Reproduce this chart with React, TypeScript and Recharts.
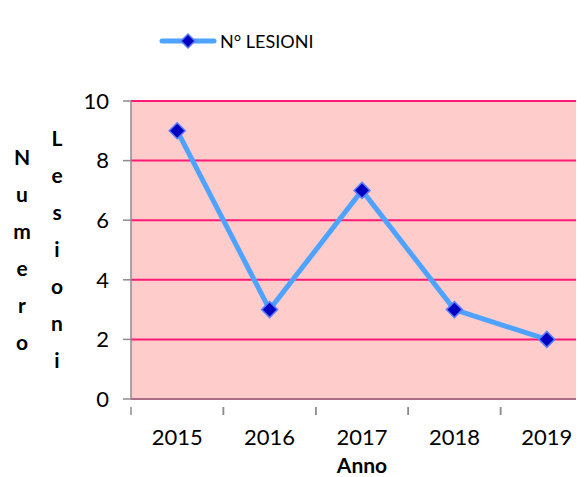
import React from 'react';
import { LineChart, Line, XAxis, YAxis, CartesianGrid } from 'recharts';

const years = ['2015', '2016', '2017', '2018', '2019'];
const lesioni = [9, 3, 7, 3, 2];
const yTicks = [0, 2, 4, 6, 8, 10];
const seriesName = 'N° LESIONI';
const yTitleCols = ['Numero', 'Lesioni'];
const xTitle = 'Anno';

const data = years.map((y, i) => ({ anno: y, value: lesioni[i] }));

const FONT = 'Lato, "Open Sans", sans-serif';
const LINE = '#4da3ff';
const DOT = '#0000c0';
const PLOT_W = 462;
const BAND = PLOT_W / years.length;

const Diamond = (props: any) => {
    const { cx, cy } = props;
    if (cx == null || cy == null) return null;
    const r = 8;
    return (
        <path
            d={`M${cx},${cy - r} L${cx + r},${cy} L${cx},${cy + r} L${cx - r},${cy} Z`}
            fill={DOT}
            stroke="#5a7dff"
            strokeWidth={1.5}
        />
    );
};

const XTick = (props: any) => {
    const { x, y, payload } = props;
    return (
        <g>
            <line x1={x - BAND / 2} y1={y} x2={x - BAND / 2} y2={y + 8} stroke="#8c8c8c" strokeWidth={1.5} />
            <line x1={x + BAND / 2} y1={y} x2={x + BAND / 2} y2={y + 8} stroke="#8c8c8c" strokeWidth={1.5} />
            <text x={x} y={y + 38} textAnchor="middle" fontFamily={FONT} fontSize={22} fill="#000">
                {payload.value}
            </text>
        </g>
    );
};

const YTitle = (props: any) => {
    const { viewBox } = props;
    const colX = [viewBox.x - 59, viewBox.x - 24];
    const startY = [viewBox.y + 57, viewBox.y + 38];
    return (
        <g>
            {yTitleCols.map((word, c) =>
                word.split('').map((ch, i) => (
                    <text
                        key={`${c}-${i}`}
                        x={colX[c]}
                        y={startY[c] + i * 37 + 7}
                        textAnchor="middle"
                        fontFamily={FONT}
                        fontWeight="bold"
                        fontSize={21}
                        fill="#000"
                    >
                        {ch}
                    </text>
                ))
            )}
        </g>
    );
};

const XTitle = (props: any) => {
    const { viewBox } = props;
    return (
        <text
            x={viewBox.x + viewBox.width / 2}
            y={viewBox.y + 74}
            textAnchor="middle"
            fontFamily={FONT}
            fontWeight="bold"
            fontSize={21}
            fill="#000"
        >
            {xTitle}
        </text>
    );
};

const LegendBox = () => (
    <div
        style={{
            position: 'absolute',
            top: 22,
            left: 150,
            display: 'flex',
            alignItems: 'center',
            fontFamily: FONT,
            fontSize: 18,
            color: '#000',
        }}
    >
        <svg width={60} height={20}>
            <line x1={4} y1={10} x2={56} y2={10} stroke={LINE} strokeWidth={5} strokeLinecap="round" />
            <path d="M30,3 L37,10 L30,17 L23,10 Z" fill={DOT} stroke="#5a7dff" strokeWidth={1.5} />
        </svg>
        <span style={{ marginLeft: 2 }}>{seriesName}</span>
    </div>
);

export default function App() {
    return (
        <div style={{ position: 'relative', width: 576, height: 469, overflow: 'hidden' }}>
            <LineChart
                width={600}
                height={469}
                data={data}
                margin={{ top: 93, right: 15, bottom: 0, left: 73 }}
            >
                <CartesianGrid
                    horizontal
                    vertical={false}
                    fill="#ffcccc"
                    fillOpacity={1}
                    stroke="#ff1a75"
                    strokeWidth={2}
                />
                <XAxis
                    dataKey="anno"
                    scale="band"
                    height={78}
                    axisLine={{ stroke: '#8c8c8c', strokeWidth: 1.5 }}
                    tickLine={false}
                    tick={<XTick />}
                    interval={0}
                    label={{ content: <XTitle /> }}
                />
                <YAxis
                    domain={[0, 10]}
                    ticks={yTicks}
                    width={50}
                    axisLine={{ stroke: '#8c8c8c', strokeWidth: 1.5 }}
                    tickLine={{ stroke: '#8c8c8c', strokeWidth: 1.5 }}
                    tickSize={8}
                    tickMargin={14}
                    tick={{ fontFamily: FONT, fontSize: 22, fill: '#000' }}
                    label={{ content: <YTitle /> }}
                />
                <Line
                    type="linear"
                    dataKey="value"
                    name={seriesName}
                    stroke={LINE}
                    strokeWidth={5}
                    dot={<Diamond />}
                    activeDot={false}
                    isAnimationActive={false}
                />
            </LineChart>
            <LegendBox />
        </div>
    );
}
